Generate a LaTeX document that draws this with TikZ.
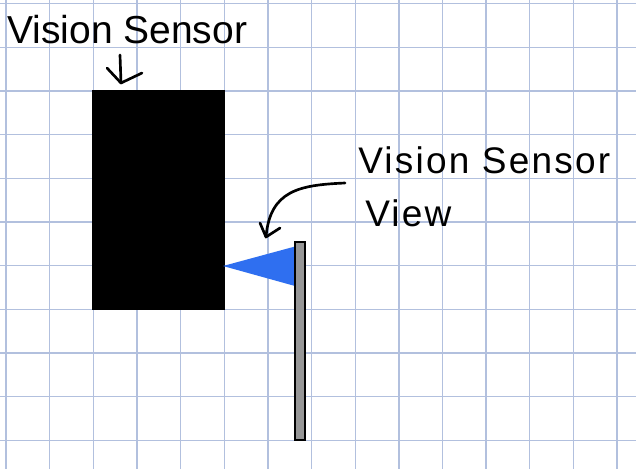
\documentclass[tikz,border=0pt]{standalone}
\usepackage{fontspec}
\setmainfont{Liberation Sans}
\newfontfamily\handfont{Liberation Sans}[LetterSpace=6]
\definecolor{gridblue}{RGB}{178,192,222}
\definecolor{viewblue}{RGB}{47,111,240}
\definecolor{bargray}{RGB}{150,150,150}
\begin{document}
\begin{tikzpicture}[x=0.75pt,y=-0.75pt,
  gridline/.style={draw=gridblue,line width=1pt},
  hand/.style={draw=black,line width=2pt,line cap=round,line join=round},
  titletext/.style={anchor=base west,inner sep=0pt,font=\fontsize{29.25}{30}\selectfont},
  handtext/.style={anchor=base west,inner sep=0pt,font=\handfont\fontsize{27.75}{28}\selectfont},
  sensorbox/.style={fill=black,inner sep=0pt,anchor=north west,minimum width=99.75pt,minimum height=165pt},
  wallbar/.style={fill=bargray,draw=black,line width=1.5pt}]
\useasboundingbox (0,0) rectangle (636,469);
\fill[white] (0,0) rectangle (636,469);
\foreach \i in {0,...,14} \draw[gridline] ({6+43.65*\i},0) -- ({6+43.65*\i},469);
\foreach \j in {0,...,10} \draw[gridline] (0,{3.7+43.65*\j}) -- (636,{3.7+43.65*\j});
% sensor body
\node[sensorbox] (sensor) at (92,90) {};
% view cone
\coordinate (conetip) at (223,266);
\fill[viewblue] (conetip) -- (295,246.5) -- (295,286) -- cycle;
% wall
\filldraw[wallbar] (295,242) rectangle (304.5,440);
% labels
\node[titletext] (title) at (7,43.3) {Vision Sensor};
\node[handtext] (viewlabel) at (358,173) {Vision Sensor};
\node[handtext] (viewlabel2) at (365,226) {View};
% handwritten arrows
\coordinate (a1s) at (120,55);
\coordinate (a1t) at (121,83);
\draw[hand] (a1s) -- (a1t);
\draw[hand] (107,68) -- (a1t) -- (142,73);
\coordinate (a2s) at (345,183);
\coordinate (a2t) at (266,237);
\draw[hand] (a2s) .. controls (300,185) and (270,190) .. (a2t);
\draw[hand] (260,223) -- (a2t) -- (280,228);
\end{tikzpicture}
\end{document}
